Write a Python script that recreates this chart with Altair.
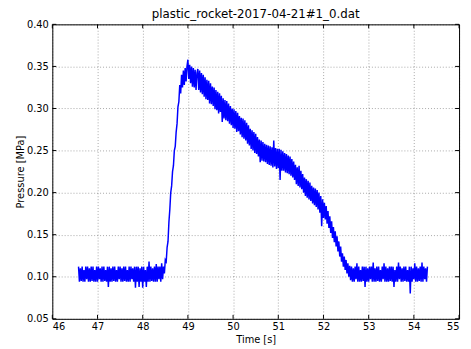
import altair as alt
import pandas as pd

TITLE = "plastic_rocket-2017-04-21#1_0.dat"

# sampling of the recorded signal
t_start = 46.58
t_step = 0.02

# pressure [MPa], segment by segment
baseline_before = [
    0.112, 0.094, 0.110, 0.095, 0.112, 0.094, 0.108, 0.094, 0.112, 0.097,
    0.112, 0.094, 0.110, 0.094, 0.112, 0.095, 0.112, 0.094, 0.108, 0.094,
    0.112, 0.094, 0.112, 0.097, 0.110, 0.094, 0.112, 0.094, 0.112, 0.095,
    0.108, 0.094, 0.112, 0.088, 0.112, 0.094, 0.110, 0.094, 0.112, 0.095,
    0.112, 0.094, 0.108, 0.094, 0.112, 0.097, 0.112, 0.094, 0.110, 0.094,
    0.112, 0.095, 0.112, 0.094, 0.108, 0.094, 0.112, 0.094, 0.112, 0.097,
    0.110, 0.094, 0.112, 0.087, 0.112, 0.094, 0.112, 0.088, 0.110, 0.094,
    0.112, 0.087, 0.112, 0.094, 0.108, 0.088, 0.112, 0.094, 0.118, 0.094,
    0.112, 0.095, 0.110, 0.094, 0.112, 0.094, 0.115, 0.094, 0.112, 0.097,
    0.112, 0.094, 0.116, 0.097,
]
rise = [
    0.112, 0.104, 0.120, 0.118, 0.135, 0.142, 0.165, 0.180, 0.200, 0.208,
    0.225, 0.232, 0.250, 0.255, 0.272, 0.282, 0.302, 0.308, 0.328, 0.318,
    0.340, 0.325, 0.345, 0.328, 0.348, 0.332, 0.350, 0.358, 0.335, 0.352,
    0.330, 0.350, 0.326, 0.348, 0.325, 0.346, 0.322, 0.342,
]
decay = [
    0.347, 0.322, 0.345, 0.319, 0.342, 0.317, 0.340, 0.314, 0.337, 0.311,
    0.334, 0.310, 0.333, 0.306, 0.330, 0.305, 0.326, 0.303, 0.325, 0.299,
    0.322, 0.298, 0.320, 0.294, 0.318, 0.296, 0.315, 0.284, 0.312, 0.288,
    0.310, 0.286, 0.309, 0.285, 0.306, 0.282, 0.303, 0.280, 0.300, 0.277,
    0.299, 0.276, 0.297, 0.272, 0.295, 0.273, 0.291, 0.269, 0.289, 0.266,
    0.288, 0.264, 0.286, 0.262, 0.283, 0.258, 0.280, 0.256, 0.276, 0.252,
    0.274, 0.250, 0.272, 0.247, 0.270, 0.246, 0.266, 0.243, 0.263, 0.236,
    0.262, 0.238, 0.260, 0.237, 0.258, 0.236, 0.257, 0.234, 0.256, 0.233,
    0.255, 0.232, 0.254, 0.230, 0.262, 0.231, 0.253, 0.228, 0.252, 0.229,
    0.252, 0.215, 0.251, 0.226, 0.249, 0.226, 0.247, 0.224, 0.246, 0.223,
    0.244, 0.222, 0.243, 0.220, 0.240, 0.218, 0.237, 0.215, 0.233, 0.210,
    0.230, 0.208, 0.232, 0.206, 0.226, 0.204, 0.222, 0.200, 0.218, 0.196,
    0.216, 0.194, 0.214, 0.192, 0.212, 0.190, 0.208, 0.187, 0.206, 0.185,
    0.205, 0.183, 0.203, 0.180, 0.200, 0.176, 0.196, 0.160, 0.192, 0.170,
    0.188, 0.168, 0.184, 0.163, 0.178, 0.158, 0.172, 0.152, 0.166, 0.146,
    0.159, 0.141, 0.154, 0.136, 0.148, 0.130, 0.142, 0.124, 0.136, 0.118,
    0.128, 0.112, 0.124, 0.108, 0.120, 0.104, 0.116, 0.100, 0.113, 0.096,
]
baseline_after = [
    0.112, 0.094, 0.110, 0.094, 0.112, 0.097, 0.116, 0.094, 0.112, 0.094,
    0.108, 0.094, 0.112, 0.095, 0.112, 0.088, 0.112, 0.094, 0.110, 0.094,
    0.112, 0.097, 0.112, 0.094, 0.117, 0.094, 0.110, 0.094, 0.112, 0.095,
    0.112, 0.094, 0.108, 0.094, 0.112, 0.097, 0.116, 0.094, 0.112, 0.094,
    0.110, 0.094, 0.112, 0.095, 0.112, 0.094, 0.112, 0.088, 0.108, 0.094,
    0.112, 0.094, 0.117, 0.097, 0.112, 0.094, 0.110, 0.094, 0.112, 0.095,
    0.112, 0.094, 0.108, 0.094, 0.112, 0.080, 0.112, 0.094, 0.110, 0.097,
    0.116, 0.094, 0.112, 0.094, 0.110, 0.095, 0.112, 0.094, 0.117, 0.094,
    0.112, 0.097, 0.110, 0.094, 0.112,
]

x_ticks = [46, 47, 48, 49, 50, 51, 52, 53, 54, 55]
y_ticks = [0.05, 0.10, 0.15, 0.20, 0.25, 0.30, 0.35, 0.40]

pressure = baseline_before + rise + decay + baseline_after
time = [round(t_start + i * t_step, 2) for i in range(len(pressure))]
df = pd.DataFrame({"t": time, "p": pressure})

W, H = 413, 299
FONT = "DejaVu Sans"

xs = alt.Scale(domain=[46, 55], nice=False, zero=False)
ys = alt.Scale(domain=[0.05, 0.40], nice=False, zero=False)
x_axis = alt.Axis(values=x_ticks, format="d", title="Time [s]", labelPadding=3, titlePadding=3)
y_axis = alt.Axis(values=y_ticks, format=".2f", title="Pressure [MPa]", labelPadding=4, titlePadding=1)

line = alt.Chart(df).mark_line(color="#0000ff", strokeWidth=1.5, clip=True).encode(
    x=alt.X("t:Q", scale=xs, axis=x_axis),
    y=alt.Y("p:Q", scale=ys, axis=y_axis),
)

xt = pd.DataFrame({"x": x_ticks})
yt = pd.DataFrame({"y": y_ticks})

bottom_ticks = alt.Chart(xt).mark_rule(color="black", strokeWidth=1).encode(
    x=alt.X("x:Q", scale=xs, axis=x_axis), y=alt.value(H), y2=alt.value(H - 4))
top_ticks = alt.Chart(xt).mark_rule(color="black", strokeWidth=1).encode(
    x=alt.X("x:Q", scale=xs, axis=x_axis), y=alt.value(0), y2=alt.value(4))
left_ticks = alt.Chart(yt).mark_rule(color="black", strokeWidth=1).encode(
    y=alt.Y("y:Q", scale=ys, axis=y_axis), x=alt.value(0), x2=alt.value(4))
right_ticks = alt.Chart(yt).mark_rule(color="black", strokeWidth=1).encode(
    y=alt.Y("y:Q", scale=ys, axis=y_axis), x=alt.value(W), x2=alt.value(W - 4))

chart = (
    alt.layer(line, bottom_ticks, top_ticks, left_ticks, right_ticks)
    .properties(
        width=W, height=H,
        title=alt.TitleParams(TITLE, offset=-2),
        autosize=alt.AutoSizeParams(type="none"),
        padding={"left": 45, "top": 14, "right": 4, "bottom": 26},
    )
    .configure_axis(
        labelFont=FONT, labelFontSize=10, labelColor="black",
        titleFont=FONT, titleFontSize=10, titleFontWeight="normal", titleColor="black",
        ticks=False, domain=False,
        gridColor="#000000", gridOpacity=0.35, gridDash=[1, 2], gridWidth=1,
    )
    .configure_view(stroke="black", strokeWidth=1)
    .configure_title(font=FONT, fontSize=12, fontWeight="normal", color="black",
                     anchor="middle")
)

chart.save("out.html", embed_options={"renderer": "svg", "actions": False})
